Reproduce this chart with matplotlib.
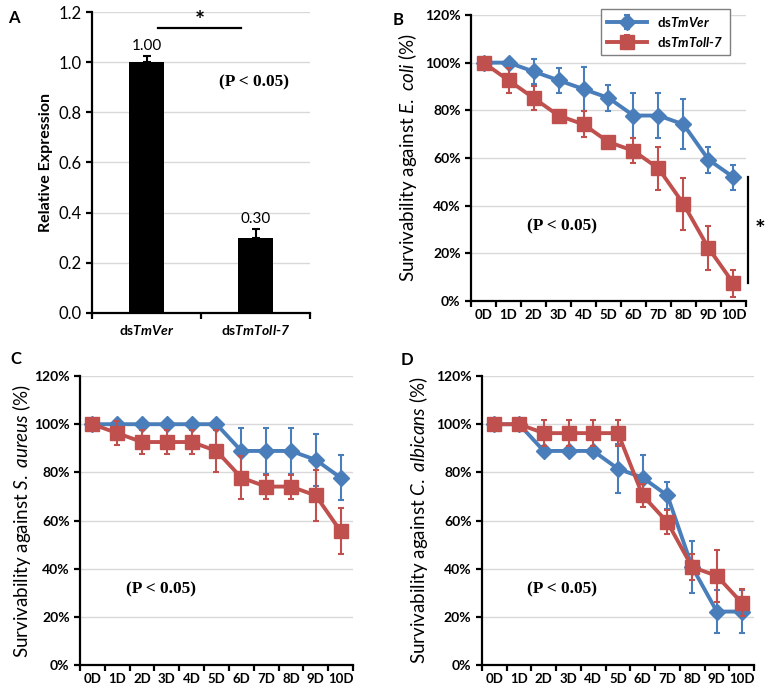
import numpy as np
import matplotlib
matplotlib.use('Agg')
from matplotlib import pyplot as plt

plt.rcParams['font.family'] = ['Lato', 'DejaVu Sans']
plt.rcParams['mathtext.fontset'] = 'custom'
plt.rcParams['mathtext.rm'] = 'Lato'
plt.rcParams['mathtext.it'] = 'Lato:italic'
plt.rcParams['mathtext.bf'] = 'Lato:bold'
plt.rcParams['mathtext.bfit'] = 'Lato:italic:bold'

# panel A data
groups = [r'ds$\mathbfit{TmVer}$', r'ds$\mathbfit{TmToll}$-$\mathbfit{7}$']
expr = [1.00, 0.30]
expr_err = [0.025, 0.035]

# survival data (%)
days = ['0D', '1D', '2D', '3D', '4D', '5D', '6D', '7D', '8D', '9D', '10D']

ecoli_ver = [100, 100, 96.3, 92.6, 88.9, 85.2, 77.8, 77.8, 74.1, 59.3, 51.9]
ecoli_ver_err = [0, 0, 5.4, 5.3, 9.4, 5.6, 9.3, 9.3, 10.5, 5.5, 5.3]
ecoli_toll = [100, 92.6, 85.2, 77.8, 74.1, 66.7, 63.0, 55.6, 40.7, 22.2, 7.4]
ecoli_toll_err = [0, 5.2, 5.2, 0, 5.5, 0, 5.3, 9.2, 10.8, 9.4, 5.6]

saureus_ver = [100, 100, 100, 100, 100, 100, 88.9, 88.9, 88.9, 85.2, 77.8]
saureus_ver_err = [0, 0, 0, 0, 0, 0, 9.4, 9.4, 9.4, 10.7, 9.4]
saureus_toll = [100, 96.3, 92.6, 92.6, 92.6, 88.9, 77.8, 74.1, 74.1, 70.4, 55.6]
saureus_toll_err = [0, 4.9, 5.0, 5.0, 5.0, 8.6, 9.0, 5.0, 5.0, 10.6, 9.4]

calb_ver = [100, 100, 88.9, 88.9, 88.9, 81.5, 77.8, 70.4, 40.7, 22.2, 22.2]
calb_ver_err = [0, 0, 0, 0, 0, 10.2, 9.4, 5.5, 10.9, 8.8, 9.0]
calb_toll = [100, 100, 96.3, 96.3, 96.3, 96.3, 70.4, 59.3, 40.7, 37.0, 25.9]
calb_toll_err = [0, 0, 5.4, 5.4, 5.4, 5.4, 4.9, 5.0, 5.4, 10.8, 5.5]

blue = '#4a7ebb'
red = '#c0504d'
grid_c = '#d9d9d9'

fig = plt.figure(figsize=(7.67, 6.9), dpi=100)


def style_axes(ax):
    for s in ['top', 'right']:
        ax.spines[s].set_visible(False)
    for s in ['left', 'bottom']:
        ax.spines[s].set_linewidth(1.6)
    ax.yaxis.grid(True, color=grid_c, linewidth=1.0)
    ax.set_axisbelow(True)
    ax.tick_params(axis='both', which='major', length=4, width=1.6, direction='out')


# ---- panel A
axA = fig.add_axes([0.1200, 0.5464, 0.2842, 0.4362])
style_axes(axA)
xa = np.arange(len(expr)) + 0.5
axA.bar(xa, expr, width=0.32, color='black', zorder=2,
        yerr=[[0] * len(expr), expr_err],
        error_kw=dict(ecolor='black', elinewidth=1.5, capsize=3, capthick=1.5))
axA.set_xlim(0, 2)
axA.set_ylim(0, 1.2)
axA.set_yticks(np.arange(0, 1.21, 0.2))
axA.set_yticklabels(['%.1f' % v for v in np.arange(0, 1.21, 0.2)], fontsize=12)
axA.set_xticks([0, 1, 2])
axA.set_xticklabels([])
axA.set_xticks(xa, minor=True)
axA.set_xticklabels(groups, minor=True, fontsize=10, fontweight='bold')
axA.tick_params(axis='x', which='minor', length=0, pad=7)
axA.set_ylabel('Relative Expression', fontsize=11.5, fontweight='bold', labelpad=4)
for x, v, e in zip(xa, expr, expr_err):
    axA.text(x, v + e + 0.01, '%.2f' % v, ha='center', va='bottom', fontsize=11)
axA.plot([0.606, 1.367], [1.136, 1.136], color='black', lw=1.6, clip_on=False)
axA.text(0.99, 1.115, '*', ha='center', va='bottom', fontsize=17, fontweight='bold')
axA.text(1.486, 0.918, '(P < 0.05)', ha='center', va='center', fontsize=12.5,
         fontweight='bold', family='Liberation Serif')
fig.text(0.010, 0.985, 'A', fontsize=12, fontweight='bold', va='top')


def survival_panel(rect, ver, ver_err, toll, toll_err, species, letter, lpos, lpad, px):
    ax = fig.add_axes(rect)
    style_axes(ax)
    x = np.arange(len(days)) + 0.5
    ax.errorbar(x, ver, yerr=ver_err, color=blue, marker='D', markersize=8.5,
                lw=2.8, elinewidth=1.5, capsize=2.5, capthick=1.5,
                label=r'ds$\mathbfit{TmVer}$', zorder=3, clip_on=False)
    ax.errorbar(x, toll, yerr=toll_err, color=red, marker='s', markersize=9.5,
                lw=2.8, elinewidth=1.5, capsize=2.5, capthick=1.5,
                label=r'ds$\mathbfit{TmToll}$-$\mathbfit{7}$', zorder=4, clip_on=False)
    ax.set_xlim(0, len(days))
    ax.set_ylim(0, 120)
    yt = np.arange(0, 121, 20)
    ax.set_yticks(yt)
    ax.set_yticklabels(['%d%%' % v for v in yt], fontsize=10, fontweight='bold')
    ax.set_xticks(np.arange(len(days) + 1))
    ax.set_xticklabels([])
    ax.set_xticks(x, minor=True)
    ax.set_xticklabels(days, minor=True, fontsize=9.5, fontweight='bold')
    ax.tick_params(axis='x', which='minor', length=0, pad=6)
    ax.set_ylabel('Survivability against $\\mathit{' + species + '}$ (%)',
                  fontsize=13.5, labelpad=lpad)
    ax.text(px, 31.5, '(P < 0.05)', ha='center', va='center', fontsize=12.5,
            fontweight='bold', family='Liberation Serif')
    fig.text(lpos[0], lpos[1], letter, fontsize=12, fontweight='bold', va='top')
    return ax


axB = survival_panel([0.6141, 0.5638, 0.3585, 0.4145], ecoli_ver, ecoli_ver_err,
                     ecoli_toll, ecoli_toll_err, r'E.\ coli', 'B', (0.512, 0.982), 4, 3.65)
axB.plot([11.08, 11.08], [7.5, 52], color='black', lw=1.6, clip_on=False)
axB.text(11.55, 29.5, '*', ha='center', va='center', fontsize=18, fontweight='bold')
leg = axB.legend(loc='upper right', bbox_to_anchor=(0.965, 1.045),
                 prop=dict(weight='bold', size=9.5), handlelength=3.0,
                 fancybox=False, framealpha=1, edgecolor='#7f7f7f',
                 borderpad=0.45, labelspacing=0.45)
leg.get_frame().set_linewidth(1.0)

survival_panel([0.1043, 0.0362, 0.3559, 0.4188], saureus_ver, saureus_ver_err,
               saureus_toll, saureus_toll_err, r'S.\ aureus', 'C', (0.013, 0.492), 1, 3.25)
survival_panel([0.6284, 0.0362, 0.3546, 0.4188], calb_ver, calb_ver_err,
               calb_toll, calb_toll_err, r'C.\ albicans', 'D', (0.522, 0.490), 4, 3.25)

fig.savefig('out.png', dpi=100)
